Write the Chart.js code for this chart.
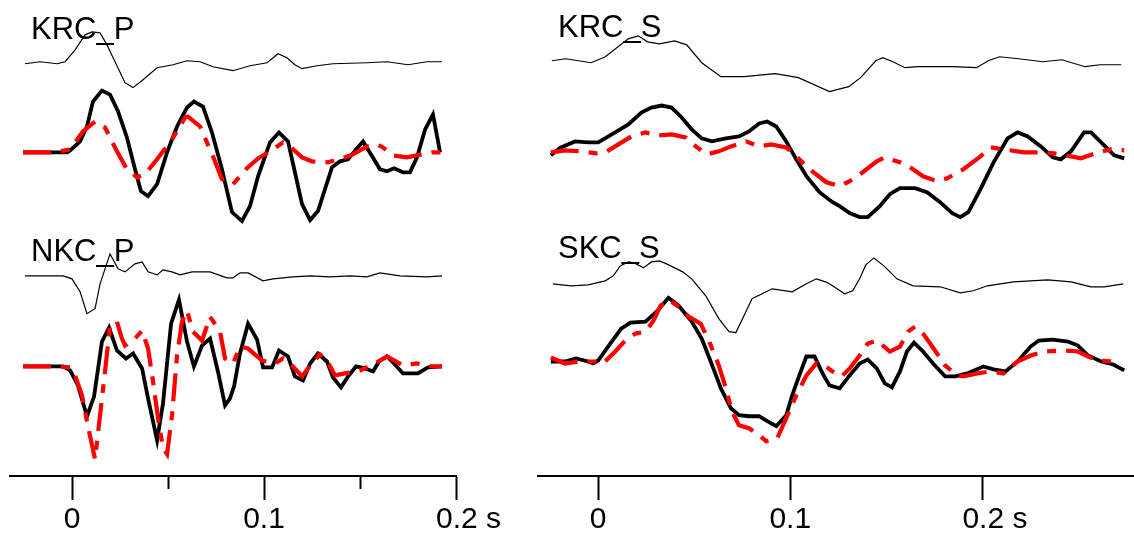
<!DOCTYPE html>
<html>
<head>
<meta charset="utf-8">
<script src="https://cdn.jsdelivr.net/npm/chart.js@4.4.0/dist/chart.umd.min.js"></script>
<style>
body{margin:0;background:#fff;width:1134px;height:542px;overflow:hidden;position:relative;font-family:"Liberation Sans",Arial,sans-serif}
canvas{position:absolute;top:0}
#left{left:0}
#right{left:530px}
.stn{position:absolute;font-size:31px;line-height:31px;color:#000;white-space:nowrap}
</style>
</head>
<body>
<canvas id="left" width="520" height="542"></canvas>
<canvas id="right" width="604" height="542"></canvas>
<div class="stn" style="left:31px;top:13px">KRC_P</div>
<div class="stn" style="left:31px;top:235px">NKC_P</div>
<div class="stn" style="left:558px;top:11px">KRC_S</div>
<div class="stn" style="left:558px;top:232px">SKC_S</div>
<script>
// time in ms, amplitudes in plot units (relative to each trace's zero line)

// ---- KRC_P ----
var krcP_thin_t = [-24.5,-16.7,-7.8,-3.6,1.6,6.8,10.4,14.6,18.2,22.4,27.6,31.8,37.0,44.3,52.6,59.9,66.7,73.4,83.9,92.7,101.6,107.3,112.0,116.1,119.8,127.6,135.9,153.6,164.1,175.0,184.9,192.7];
var krcP_thin   = [-1,1,-1,1,13,28,31,30,18,1,-20,-25,-17,-5,-2,2,1,-4,-8,-3,0,9,5,-2,-6,-3,-1,0,1,-2,1,1];
var krcP_obs_t = [-25.5,-2.6,-1.0,4.2,7.8,10.9,15.6,19.8,24.0,28.6,32.8,35.9,39.6,44.3,49.5,54.7,59.9,63.5,68.2,72.9,78.1,83.3,88.5,92.7,96.9,103.1,107.8,112.5,116.1,119.8,124.0,128.1,135.4,139.6,143.8,147.9,151.6,156.3,160.4,164.1,167.7,172.4,176.0,179.7,183.9,188.0,191.7];
var krcP_obs   = [0,0,2,11,26,51,62,58,41,15,-17,-39,-44,-32,0,26,45,51,46,20,-17,-60,-69,-54,-24,10,20,11,-20,-52,-68,-59,-15,-9,-7,3,11,-4,-17,-19,-16,-20,-20,-5,23,38,0];
var krcP_syn_t = [-25.5,-8.9,-1.0,5.7,12.0,17.2,23.4,28.6,33.9,38.0,44.3,52.1,58.9,60.4,66.7,73.4,78.1,83.9,91.1,96.9,103.1,109.9,113.5,119.8,125.0,133.3,142.2,146.4,153.6,158.9,162.0,166.7,174.5,187.5,192.7];
var krcP_syn   = [0,0,3,21,31,25,1,-17,-25,-22,-7,13,35,36,26,-4,-27,-32,-16,-6,1,10,6,-5,-9,-10,-5,-2,6,8,5,-3,-5,0,0];

// ---- NKC_P ----
var nkcP_thin_t = [-24.5,-4.7,0,4.2,7.8,12.0,14.6,19.8,24.0,27.6,32.8,36.5,39.6,44.3,47.4,52.1,56.3,62.5,71.9,80.7,83.9,87.5,91.7,99.5,104.7,115.1,124.0,134.4,144.8,153.6,160.4,170.8,184.9,192.7];
var nkcP_thin   = [0,0,-3,-16,-38,-33,-8,22,7,4,12,14,4,1,6,4,1,4,4,-2,-2,3,3,-5,-3,-1,0,-1,0,-1,3,0,-1,0];
var nkcP_obs_t = [-25.5,-4.7,-1.0,3.1,7.8,11.5,15.6,19.3,23.4,28.1,31.8,36.5,39.6,44.3,47.4,51.6,55.7,59.9,63.5,67.7,71.9,76.0,79.7,82.3,84.4,87.5,91.7,96.4,99.5,104.2,107.8,112.5,116.1,120.3,124.0,128.1,132.8,135.9,140.1,143.8,147.9,152.6,156.8,159.9,164.1,168.2,172.4,180.2,185.4,192.7];
var nkcP_obs   = [0,0,-4,-19,-50,-30,25,39,16,8,13,-2,-32,-74,-37,43,67,25,0,21,28,-5,-39,-32,-20,13,43,27,-1,-1,16,10,-10,-14,3,13,5,-11,-21,-10,0,-2,-5,5,10,2,-7,-7,-1,0];
var nkcP_syn_t = [-25.5,-9.9,-1.0,1.6,5.2,7.8,10.4,12.0,14.6,17.2,19.8,23.4,26.0,27.6,32.8,36.5,39.6,42.2,44.8,47.4,49.5,52.1,54.7,57.3,59.9,63.0,67.7,71.9,77.1,79.7,83.9,87.5,91.7,99.0,105.7,109.9,115.1,119.8,125.0,129.2,132.8,137.0,142.2,150.0,157.8,164.1,172.4,179.7,187.5,192.7];
var nkcP_syn   = [0,0,-1,-9,-29,-55,-79,-93,-49,-5,41,45,28,21,28,36,18,-15,-52,-82,-88,-49,11,45,56,35,26,50,35,8,3,20,18,6,3,8,0,-10,3,12,6,-9,-7,-4,3,10,1,3,0,0];

// ---- KRC_S ----
var krcS_thin_t = [-24.1,-16.8,-3.7,3.7,15.7,20.9,25.7,31.9,39.8,46.1,53.9,63.9,75.9,92.1,104.2,120.4,130.4,136.6,144.5,148.2,153.4,159.7,166.5,184.8,196.9,203.1,208.9,218.8,231.4,241.4,253.4,261.3,272.3];
var krcS_thin   = [1,3,-1,5,23,26,20,18,21,17,-1,-15,-15,-12,-16,-30,-25,-16,1,4,0,-6,-5,-5,-6,1,5,3,0,2,-5,-3,-3];
var krcS_obs_t = [-24.6,-19.4,-12.0,-5.2,0,8.9,15.7,22.5,27.7,33.0,38.2,43.5,48.7,53.9,59.2,66.5,73.3,78.5,83.8,88.0,92.7,97.9,103.1,108.4,115.2,122.0,125.7,130.9,136.1,140.3,146.6,151.8,157.1,164.9,171.2,178.0,184.3,188.5,192.7,199.0,205.8,213.1,218.3,223.6,230.4,236.6,240.8,246.1,252.9,256.5,261.8,268.6,273.8];
var krcS_obs   = [-4,4,10,9,9,19,27,39,44,46,44,34,22,13,10,13,15,20,28,30,25,10,-8,-25,-41,-51,-55,-62,-66,-66,-55,-43,-37,-37,-41,-51,-62,-66,-61,-38,-11,13,19,15,5,-6,-8,0,19,19,9,-4,-7];
var krcS_syn_t = [-24.6,-17.3,-9.4,-1.0,3.7,10.5,17.3,24.6,31.4,38.2,45.5,50.8,56.5,62.8,69.1,77.0,83.8,90.1,97.9,104.7,111.5,118.8,125.7,130.9,137.7,145.0,149.2,157.1,162.3,169.1,176.4,181.7,190.1,199.0,204.2,211.0,221.5,228.8,237.2,246.1,251.3,260.2,267.0,273.8];
var krcS_syn   = [-1,1,0,-2,-1,7,15,19,16,17,14,5,-3,0,5,10,5,7,4,-8,-20,-31,-35,-30,-21,-10,-6,-11,-16,-25,-30,-27,-18,-5,4,2,-1,-1,-2,-5,-7,-1,2,1];

// ---- SKC_S ----
var skcS_thin_t = [-23.6,-14.1,-5.2,3.7,7.9,11.5,15.7,18.8,23.6,27.7,31.9,35.6,44.0,48.7,56.0,62.8,68.1,71.7,75.9,80.1,90.6,101.0,108.4,113.6,118.3,120.4,128.3,132.5,136.1,139.3,143.5,148.7,155.5,163.9,178.0,188.5,195.3,202.6,216.2,234.0,246.1,256.5,263.4,273.3];
var skcS_thin   = [0,-2,-1,3,8,18,22,21,16,22,23,20,12,5,-12,-35,-48,-49,-32,-15,-5,-8,0,5,2,0,-10,-7,5,19,26,18,5,-2,-3,-9,-7,-2,2,4,2,-3,-3,0];
var skcS_obs_t = [-24.6,-17.3,-11.5,-5.2,-2.6,0,6.3,12.0,16.8,24.6,30.4,36.6,41.9,48.7,53.9,58.6,63.9,69.1,73.3,78.5,83.8,88.0,92.7,97.9,101.0,104.7,108.4,112.6,116.8,120.4,125.7,130.9,136.1,140.3,145.0,149.2,152.9,157.1,160.7,164.4,169.1,174.3,180.6,185.9,192.1,200.5,205.8,212.0,218.3,225.1,229.3,236.6,244.5,249.7,255.0,261.8,268.1,273.8];
var skcS_obs   = [0,0,3,0,-2,1,18,33,39,40,50,64,56,40,23,0,-27,-47,-54,-55,-55,-60,-65,-54,-34,-14,5,5,-12,-24,-27,-14,-2,2,-7,-22,-26,-10,10,19,10,-2,-15,-15,-12,-5,-8,-10,0,15,21,22,20,16,6,0,-3,-9];
var skcS_syn_t = [-24.6,-17.3,-10.5,-1.0,2.6,8.9,14.1,19.4,24.6,28.8,32.5,36.6,41.9,47.1,53.4,57.6,62.8,66.5,69.6,73.3,78.5,83.8,87.4,93.2,97.9,103.1,108.4,113.6,117.8,122.0,126.7,130.9,136.1,140.3,145.0,151.8,157.1,161.3,164.9,169.1,172.8,176.4,180.6,186.9,190.1,197.4,204.2,211.0,218.3,225.1,231.9,242.4,249.7,255.0,260.2,268.1];
var skcS_syn   = [4,-2,0,0,-2,10,21,28,30,41,56,62,55,45,38,21,-4,-27,-50,-64,-67,-74,-80,-77,-57,-34,-14,-2,-4,-10,-15,-7,6,18,21,10,15,30,35,28,18,8,-4,-14,-15,-12,-10,-12,0,6,10,11,10,5,1,0];

// axis ticks (ms) and their labels
var majorTicks = [0, 100, 200];
var tickLabels = ['0', '0.1', '0.2 s'];
var leftMinorTicks = [50, 150];

// zero line height of each trace above the time axis
var zeroLines = { thinTop: 415, mainTop: 325, thinBot: 201, mainBot: 110 };
var zeroLinesR = { thinTop: 416, mainTop: 326, thinBot: 193, mainBot: 115 };

function pts(t, v, base) {
  return t.map(function (x, i) { return { x: x, y: base + v[i] }; });
}

function thin(d) { return { data: d, borderColor: '#000', borderWidth: 1.2, pointRadius: 0, order: 3 }; }
function obs(d) { return { data: d, borderColor: '#000', borderWidth: 3.8, pointRadius: 0, order: 2 }; }
function syn(d) { return { data: d, borderColor: 'rgb(255,0,0)', borderWidth: 4.2, borderDash: [28, 10, 9, 10], pointRadius: 0, order: 1 }; }

Chart.defaults.font.family = '"Liberation Sans", Arial, sans-serif';

function makeChart(id, datasets, xmin, xmax, minor, pad) {
  var scales = {
    x: {
      type: 'linear', min: xmin, max: xmax,
      border: { color: '#000', width: 2 },
      grid: { drawOnChartArea: false, tickLength: 24, tickWidth: 2, tickColor: '#000' },
      ticks: {
        autoSkip: false, maxRotation: 0, color: '#000', padding: 2, font: { size: 30 },
        // pad the unit label on the left so that the number stays centred on its tick
        callback: function (v, i) { var l = tickLabels[i]; return l.indexOf(' s') > 0 ? '   ' + l : l; }
      },
      afterBuildTicks: function (s) { s.ticks = majorTicks.map(function (v) { return { value: v }; }); }
    },
    y: { display: false, min: 0, max: 478 }
  };
  if (minor) {
    scales.xm = {
      type: 'linear', min: xmin, max: xmax, position: { y: 0 },
      border: { display: false },
      grid: { drawOnChartArea: false, tickLength: 13, tickWidth: 2, tickColor: '#000' },
      ticks: { display: false },
      afterBuildTicks: function (s) { s.ticks = minor.map(function (v) { return { value: v }; }); }
    };
  }
  return new Chart(document.getElementById(id), {
    type: 'line',
    data: { datasets: datasets },
    options: {
      responsive: false, animation: false, devicePixelRatio: 1,
      parsing: false, normalized: true,
      layout: { padding: pad },
      elements: { line: { tension: 0, borderJoinStyle: 'miter' } },
      plugins: { legend: { display: false }, tooltip: { enabled: false } },
      scales: scales
    }
  });
}

makeChart('left', [
  thin(pts(krcP_thin_t, krcP_thin, zeroLines.thinTop)),
  obs(pts(krcP_obs_t, krcP_obs, zeroLines.mainTop)),
  syn(pts(krcP_syn_t, krcP_syn, zeroLines.mainTop)),
  thin(pts(nkcP_thin_t, nkcP_thin, zeroLines.thinBot)),
  obs(pts(nkcP_obs_t, nkcP_obs, zeroLines.mainBot)),
  syn(pts(nkcP_syn_t, nkcP_syn, zeroLines.mainBot))
], -32.3, 200, leftMinorTicks, { left: 10, right: 64, top: 0, bottom: 2 });

makeChart('right', [
  thin(pts(krcS_thin_t, krcS_thin, zeroLinesR.thinTop)),
  obs(pts(krcS_obs_t, krcS_obs, zeroLinesR.mainTop)),
  syn(pts(krcS_syn_t, krcS_syn, zeroLinesR.mainTop)),
  thin(pts(skcS_thin_t, skcS_thin, zeroLinesR.thinBot)),
  obs(pts(skcS_obs_t, skcS_obs, zeroLinesR.mainBot)),
  syn(pts(skcS_syn_t, skcS_syn, zeroLinesR.mainBot))
], -31.3, 278.9, null, { left: 8, right: 0, top: 0, bottom: 2 });
</script>
</body>
</html>
